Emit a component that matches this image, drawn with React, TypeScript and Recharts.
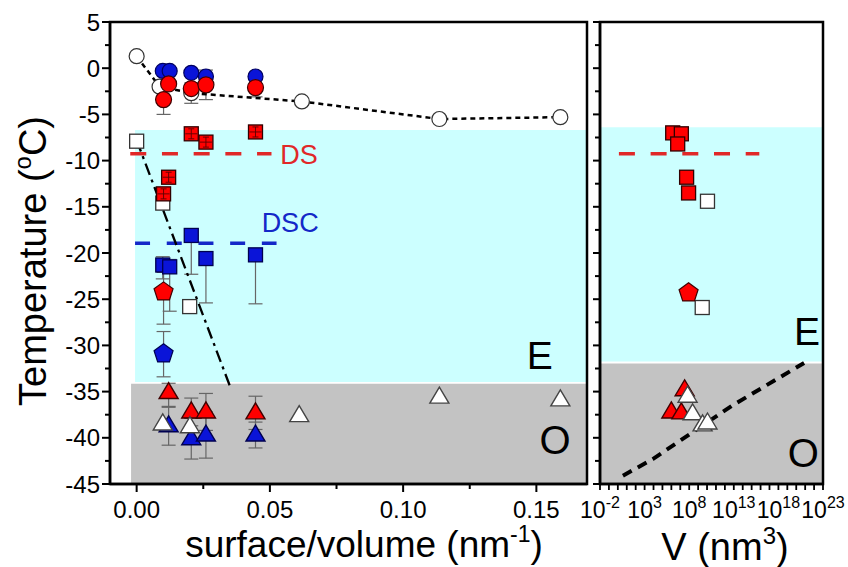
import React from 'react';
import { ScatterChart, Scatter, XAxis, YAxis, ReferenceArea, ReferenceDot, ErrorBar } from 'recharts';

const FONT = '"Liberation Sans", Arial, Helvetica, sans-serif';

// ---------- ticks ----------
const leftXTicks = [0, 0.025, 0.05, 0.075, 0.1, 0.125, 0.15];
const leftXLabels = [0, 0.05, 0.1, 0.15];
const yTicks = [-45, -42.5, -40, -37.5, -35, -32.5, -30, -27.5, -25, -22.5, -20, -17.5, -15, -12.5, -10, -7.5, -5, -2.5, 0, 2.5, 5];
const yLabels = [-45, -40, -35, -30, -25, -20, -15, -10, -5, 0, 5];
const rightXTicks = [-2, -1, 0, 1, 2, 3, 4, 5, 6, 7, 8, 9, 10, 11, 12, 13, 14, 15, 16, 17, 18, 19, 20, 21, 22, 23];
const rightXLabels = [-2, 3, 8, 13, 18, 23];

// ---------- left panel data (x = surface/volume, nm^-1) ----------
const openCirclesL = [
  { x: 0, y: 1.3 }, { x: 0.0086, y: -2.0 }, { x: 0.0205, y: -2.7 },
  { x: 0.062, y: -3.6 }, { x: 0.1136, y: -5.5 }, { x: 0.159, y: -5.3 },
];
const blueCirclesL = [
  { x: 0.0098, y: -0.3 }, { x: 0.0124, y: -0.3 }, { x: 0.0205, y: -0.5 },
  { x: 0.026, y: -0.9 }, { x: 0.0446, y: -0.9 },
];
const redCirclesL = [
  { x: 0.0101, y: -3.4 }, { x: 0.012, y: -1.7 }, { x: 0.0205, y: -2.2 },
  { x: 0.026, y: -1.8 }, { x: 0.0446, y: -2.1 },
];
const redSquaresL = [
  { x: 0.0205, y: -7.1 }, { x: 0.026, y: -8.0 }, { x: 0.0446, y: -6.9 },
  { x: 0.012, y: -11.8 }, { x: 0.0101, y: -13.6 },
];
const openSquaresL = [{ x: 0, y: -7.9 }, { x: 0.0098, y: -14.6 }, { x: 0.0199, y: -25.8 }];
const blueSquaresL = [
  { x: 0.0205, y: -18.1 }, { x: 0.0098, y: -21.3 }, { x: 0.0124, y: -21.5 },
  { x: 0.026, y: -20.6 }, { x: 0.0446, y: -20.2 },
];
const redPentagonsL = [{ x: 0.0101, y: -24.1 }];
const bluePentagonsL = [{ x: 0.0101, y: -30.8 }];
const redTrianglesL = [
  { x: 0.012, y: -35.1 }, { x: 0.0205, y: -37.2 }, { x: 0.026, y: -37.2 }, { x: 0.0446, y: -37.3 },
];
const blueTrianglesL = [
  { x: 0.012, y: -38.7 }, { x: 0.0205, y: -40.1 }, { x: 0.026, y: -39.7 }, { x: 0.0446, y: -39.7 },
];
const openTrianglesL = [
  { x: 0.0098, y: -38.5 }, { x: 0.02, y: -38.8 }, { x: 0.061, y: -37.6 },
  { x: 0.1136, y: -35.6 }, { x: 0.159, y: -35.9 },
];
const errorsL = [
  { x: 0.0101, y: -3.4, e: [1.6, 1.6] },
  { x: 0.0205, y: -2.7, e: [1.1, 1.1] },
  { x: 0.026, y: -1.8, e: [1.6, 1.6] },
  { x: 0.0446, y: -2.1, e: [1.0, 1.0] },
  { x: 0.0205, y: -18.1, e: [4.2, 0] },
  { x: 0.026, y: -20.6, e: [4.8, 0.4] },
  { x: 0.0446, y: -20.2, e: [5.3, 0] },
  { x: 0.0098, y: -21.3, e: [1.5, 0.9] },
  { x: 0.0124, y: -21.5, e: [4.8, 0.8] },
  { x: 0.0101, y: -24.1, e: [3.6, 2.0] },
  { x: 0.0101, y: -30.8, e: [2.6, 2.3] },
  { x: 0.012, y: -35.1, e: [1.5, 1.0] },
  { x: 0.012, y: -38.7, e: [2.1, 2.0] },
  { x: 0.0205, y: -37.2, e: [1.5, 1.5] },
  { x: 0.0205, y: -40.1, e: [2.2, 2.2] },
  { x: 0.026, y: -37.2, e: [2.0, 2.0] },
  { x: 0.026, y: -39.7, e: [2.5, 2.5] },
  { x: 0.0446, y: -37.3, e: [1.8, 1.8] },
  { x: 0.0446, y: -39.7, e: [1.4, 1.4] },
];
const dashDotL = [{ x: 0, y: -7.8 }, { x: 0.035, y: -34.4 }];
const dsLineL = [{ x: -0.0024, y: -9.25 }, { x: 0.0506, y: -9.25 }];
const dscLineL = [{ x: -0.0006, y: -18.95 }, { x: 0.0525, y: -18.95 }];

// ---------- right panel data (x = log10 V, V in nm^3) ----------
const redSquaresR = [
  { x: 6.15, y: -7.0 }, { x: 7.12, y: -7.1 }, { x: 6.71, y: -8.2 }, { x: 7.71, y: -11.8 }, { x: 7.93, y: -13.5 },
];
const openSquaresR = [{ x: 10.05, y: -14.4 }, { x: 9.46, y: -25.9 }];
const redPentagonsR = [{ x: 7.93, y: -24.2 }];
const redTrianglesR = [{ x: 7.49, y: -34.8 }, { x: 6.0, y: -37.2 }, { x: 7.12, y: -37.3 }];
const openTrianglesR = [{ x: 7.82, y: -35.5 }, { x: 8.38, y: -37.4 }, { x: 9.5, y: -38.6 }, { x: 10.05, y: -38.4 }];
const dashedCurveR = [
  { x: 0.57, y: -44.1 }, { x: 3.92, y: -42.3 }, { x: 9.91, y: -38.4 }, { x: 12.84, y: -36.5 }, { x: 20.88, y: -31.9 },
];
const dsLineR = [{ x: 0.12, y: -9.25 }, { x: 15.86, y: -9.25 }];

// ---------- colours ----------
const RED = '#ff0000';
const BLUE = '#0a14d8';
const CYAN = '#ccffff';
const GRAY = '#c3c3c3';

// ---------- marker shapes ----------
const circle = (fill: string, stroke: string, r = 7.5) => (p: any) => (
  <circle cx={p.cx} cy={p.cy} r={r} fill={fill} stroke={stroke} strokeWidth={1.2} />
);
const square = (fill: string, stroke: string, cross = false) => (p: any) => (
  <g>
    <rect x={p.cx - 7} y={p.cy - 7} width={14} height={14} fill={fill} stroke={stroke} strokeWidth={1.3} />
    {cross && (
      <path
        d={`M${p.cx} ${p.cy - 5}V${p.cy + 5}M${p.cx - 3} ${p.cy - 5}H${p.cx + 3}M${p.cx - 3} ${p.cy + 5}H${p.cx + 3}M${p.cx - 6} ${p.cy}H${p.cx + 6}`}
        stroke="#5a0000"
        strokeWidth={0.9}
        fill="none"
      />
    )}
  </g>
);
const triangle = (fill: string, stroke: string) => (p: any) => (
  <polygon
    points={`${p.cx},${p.cy - 10} ${p.cx - 9.5},${p.cy + 6} ${p.cx + 9.5},${p.cy + 6}`}
    fill={fill}
    stroke={stroke}
    strokeWidth={1.4}
    strokeLinejoin="miter"
  />
);
const pentagon = (fill: string, stroke: string) => (p: any) => {
  const R = 10;
  const pts: string[] = [];
  for (let i = 0; i < 5; i++) {
    const a = -Math.PI / 2 + (i * 2 * Math.PI) / 5;
    pts.push(`${p.cx + R * Math.cos(a)},${p.cy + 1 + R * Math.sin(a)}`);
  }
  return <polygon points={pts.join(' ')} fill={fill} stroke={stroke} strokeWidth={1.2} />;
};
const none = () => <g />;

const textShape = (txt: string, size: number, fill: string) => (p: any) => (
  <text x={p.cx} y={p.cy} dy="0.36em" textAnchor="middle" fontSize={size} fontFamily={FONT} fill={fill}>
    {txt}
  </text>
);

// ---------- ticks ----------
const near = (arr: number[], v: number) => arr.some((a) => Math.abs(a - v) < 1e-9);

const LeftXTick = (p: any) => {
  const v = p.payload.value;
  const major = near(leftXLabels, v);
  return (
    <g>
      <line x1={p.x} x2={p.x} y1={p.y} y2={p.y + (major ? 8 : 5)} stroke="#000" strokeWidth={2} />
      {major && (
        <text x={p.x} y={p.y + 34} textAnchor="middle" fontSize={24} fontFamily={FONT} fill="#000">
          {v.toFixed(2)}
        </text>
      )}
    </g>
  );
};

const YTickL = (p: any) => {
  const v = p.payload.value;
  const major = near(yLabels, v);
  return (
    <g>
      <line x1={p.x - (major ? 8 : 5)} x2={p.x} y1={p.y} y2={p.y} stroke="#000" strokeWidth={2} />
      {major && (
        <text x={p.x - 10} y={p.y} dy="0.36em" textAnchor="end" fontSize={24} fontFamily={FONT} fill="#000">
          {String(v)}
        </text>
      )}
    </g>
  );
};

const YTickR = (p: any) => {
  const v = p.payload.value;
  const major = near(yLabels, v);
  return <line x1={p.x - (major ? 7 : 5)} x2={p.x} y1={p.y} y2={p.y} stroke="#000" strokeWidth={2} />;
};

const RightXTick = (p: any) => {
  const v = p.payload.value;
  const major = near(rightXLabels, v);
  return (
    <g>
      <line x1={p.x} x2={p.x} y1={p.y} y2={p.y + 6} stroke="#000" strokeWidth={1.8} />
      {major && (
        <text x={p.x} y={p.y + 34} textAnchor="middle" fontSize={23} fontFamily={FONT} fill="#000">
          <tspan>10</tspan>
          <tspan fontSize={16} dy={-10}>
            {String(v)}
          </tspan>
        </text>
      )}
    </g>
  );
};

const axisLine = { stroke: '#000', strokeWidth: 2.5 };

export default function App() {
  return (
    <div style={{ position: 'absolute', left: 0, top: 0, width: 848, height: 567, background: '#fff' }}>
      <div style={{ position: 'absolute', left: 0, top: 0 }}>
        <ScatterChart width={600} height={567} margin={{ top: 22, right: 13, bottom: 53, left: 50 }}>
          <XAxis
            type="number"
            dataKey="x"
            domain={[-0.01, 0.169]}
            allowDataOverflow
            ticks={leftXTicks}
            interval={0}
            tick={LeftXTick}
            tickLine={false}
            tickSize={0}
            tickMargin={0}
            axisLine={axisLine}
            height={30}
          />
          <YAxis
            type="number"
            dataKey="y"
            domain={[-45, 5]}
            allowDataOverflow
            ticks={yTicks}
            interval={0}
            tick={YTickL}
            tickLine={false}
            tickSize={0}
            tickMargin={0}
            axisLine={axisLine}
            width={60}
          />
          <ReferenceArea x1={-0.0006} x2={0.169} y1={-33.95} y2={-6.69} fill={CYAN} fillOpacity={1} stroke="none" ifOverflow="hidden" />
          <ReferenceArea x1={-0.0021} x2={0.169} y1={-45} y2={-34.15} fill={GRAY} fillOpacity={1} stroke="none" ifOverflow="hidden" />
          <ReferenceArea x1={-0.01} x2={0.169} y1={-45} y2={5} fill="none" stroke="#000" strokeWidth={2.5} ifOverflow="visible" />

          <Scatter data={dsLineL} shape={none} line={{ stroke: '#e02828', strokeWidth: 3.5, strokeDasharray: '16 15.7' }} isAnimationActive={false} />
          <Scatter data={dscLineL} shape={none} line={{ stroke: '#1428c8', strokeWidth: 3.5, strokeDasharray: '15 16.7' }} isAnimationActive={false} />
          <Scatter data={dashDotL} shape={none} line={{ stroke: '#000', strokeWidth: 2.3, strokeDasharray: '12 5 3 5' }} isAnimationActive={false} />

          <Scatter data={errorsL} shape={none} isAnimationActive={false}>
            <ErrorBar dataKey="e" direction="y" width={7} stroke="#666" strokeWidth={1.2} isAnimationActive={false} />
          </Scatter>

          <Scatter data={openCirclesL} shape={circle('#fff', '#333', 7.5)} line={{ stroke: '#000', strokeWidth: 2.5, strokeDasharray: '5 4' }} isAnimationActive={false} />
          <Scatter data={blueCirclesL} shape={circle(BLUE, '#000060', 7.5)} isAnimationActive={false} />
          <Scatter data={redCirclesL} shape={circle(RED, '#400000', 8)} isAnimationActive={false} />
          <Scatter data={openSquaresL} shape={square('#fff', '#333')} isAnimationActive={false} />
          <Scatter data={redSquaresL} shape={square(RED, '#300000', true)} isAnimationActive={false} />
          <Scatter data={blueSquaresL} shape={square(BLUE, '#000050')} isAnimationActive={false} />
          <Scatter data={redPentagonsL} shape={pentagon(RED, '#400000')} isAnimationActive={false} />
          <Scatter data={bluePentagonsL} shape={pentagon(BLUE, '#000050')} isAnimationActive={false} />
          <Scatter data={redTrianglesL} shape={triangle(RED, '#400000')} isAnimationActive={false} />
          <Scatter data={blueTrianglesL} shape={triangle(BLUE, '#000050')} isAnimationActive={false} />
          <Scatter data={openTrianglesL} shape={triangle('#fff', '#444')} isAnimationActive={false} />

          <ReferenceDot x={0.0609} y={-9.3} r={0} shape={textShape('DS', 27, '#e02828')} />
          <ReferenceDot x={0.0576} y={-16.7} r={0} shape={textShape('DSC', 27, '#1428c8')} />
          <ReferenceDot x={0.1513} y={-31.0} r={0} shape={textShape('E', 39, '#000')} />
          <ReferenceDot x={0.157} y={-40.2} r={0} shape={textShape('O', 40, '#000')} />
        </ScatterChart>
      </div>

      <div style={{ position: 'absolute', left: 560, top: 0 }}>
        <ScatterChart width={288} height={567} margin={{ top: 22, right: 25, bottom: 53, left: 0 }}>
          <XAxis
            type="number"
            dataKey="x"
            domain={[-2, 23]}
            allowDataOverflow
            ticks={rightXTicks}
            interval={0}
            tick={RightXTick}
            tickLine={false}
            tickSize={0}
            tickMargin={0}
            axisLine={axisLine}
            height={30}
          />
          <YAxis
            type="number"
            dataKey="y"
            domain={[-45, 5]}
            allowDataOverflow
            ticks={yTicks}
            interval={0}
            tick={YTickR}
            tickLine={false}
            tickSize={0}
            tickMargin={0}
            axisLine={axisLine}
            width={40}
          />
          <ReferenceArea x1={-2} x2={23} y1={-31.75} y2={-6.4} fill={CYAN} fillOpacity={1} stroke="none" ifOverflow="hidden" />
          <ReferenceArea x1={-2} x2={23} y1={-45} y2={-31.95} fill={GRAY} fillOpacity={1} stroke="none" ifOverflow="hidden" />
          <ReferenceArea x1={-2} x2={23} y1={-45} y2={5} fill="none" stroke="#000" strokeWidth={2.5} ifOverflow="visible" />

          <Scatter data={dsLineR} shape={none} line={{ stroke: '#e02828', strokeWidth: 3.5, strokeDasharray: '16 15.7' }} isAnimationActive={false} />
          <Scatter data={dashedCurveR} shape={none} line={{ stroke: '#000', strokeWidth: 4, strokeDasharray: '10 7' }} isAnimationActive={false} />

          <Scatter data={redSquaresR} shape={square(RED, '#300000')} isAnimationActive={false} />
          <Scatter data={openSquaresR} shape={square('#fff', '#333')} isAnimationActive={false} />
          <Scatter data={redPentagonsR} shape={pentagon(RED, '#400000')} isAnimationActive={false} />
          <Scatter data={redTrianglesR} shape={triangle(RED, '#400000')} isAnimationActive={false} />
          <Scatter data={openTrianglesR} shape={triangle('#fff', '#444')} isAnimationActive={false} />

          <ReferenceDot x={21.2} y={-28.4} r={0} shape={textShape('E', 39, '#000')} />
          <ReferenceDot x={20.8} y={-41.6} r={0} shape={textShape('O', 40, '#000')} />
        </ScatterChart>
      </div>

      <svg width={848} height={567} style={{ position: 'absolute', left: 0, top: 0, pointerEvents: 'none' }}>
        <text transform="rotate(-90)" x={-261} y={46} textAnchor="middle" fontSize={38} fontFamily={FONT} fill="#000">
          Temperature (<tspan fontSize={24} dy={-15}>o</tspan>
          <tspan dy={15}>C)</tspan>
        </text>
        <text x={364} y={557} textAnchor="middle" fontSize={37} fontFamily={FONT} fill="#000">
          surface/volume (nm<tspan fontSize={23} dy={-15}>-1</tspan>
          <tspan dy={15}>)</tspan>
        </text>
        <text x={725} y={560} textAnchor="middle" fontSize={38} fontFamily={FONT} fill="#000">
          V (nm<tspan fontSize={24} dy={-16}>3</tspan>
          <tspan dy={16}>)</tspan>
        </text>
      </svg>
    </div>
  );
}
